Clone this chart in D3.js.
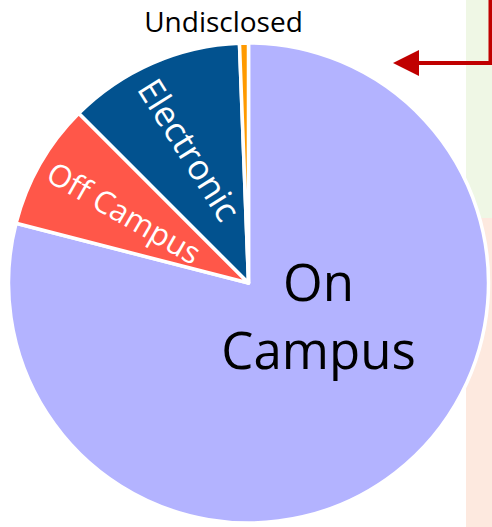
<!DOCTYPE html>
<html>
<head>
<meta charset="utf-8">
<script src="https://cdn.jsdelivr.net/npm/d3@7"></script>
<style>
  html, body { margin: 0; padding: 0; background: #fff; }
  svg { display: block; font-family: "Open Sans", sans-serif; }
</style>
</head>
<body>
<div id="chart"></div>
<script>
// slice order clockwise from 12 o'clock
const categories = ["On Campus", "Off Campus", "Electronic", "Undisclosed"];
const shares = [79.0, 8.5, 11.9, 0.6];
const colors = ["#b3b3ff", "#ff5749", "#02528f", "#ff9a00"];

const width = 492;
const height = 527;
const cx = 248.5;
const cy = 283;
const radius = 240;

const svg = d3
  .select("#chart")
  .append("svg")
  .attr("width", width)
  .attr("height", height);

// side panels behind the pie
svg.append("rect").attr("x", 466).attr("y", 0).attr("width", 26).attr("height", 218).attr("fill", "#eff7e5");
svg.append("rect").attr("x", 466).attr("y", 218).attr("width", 26).attr("height", 309).attr("fill", "#fde9df");

const pie = d3.pie().sort(null).value((d) => d.value);
const arcs = pie(categories.map((c, i) => ({ name: c, value: shares[i] })));
const arc = d3.arc().innerRadius(0).outerRadius(radius);

const g = svg.append("g").attr("transform", `translate(${cx}, ${cy})`);

g.selectAll("path")
  .data(arcs)
  .enter()
  .append("path")
  .attr("d", arc)
  .attr("fill", (d, i) => colors[i])
  .attr("stroke", "#fff")
  .attr("stroke-width", 3.5)
  .attr("stroke-linejoin", "round");

// label placement per slice
const labelStyle = {
  "Off Campus": { r: 143, rotate: 30, size: 31, fill: "#fff" },
  "Electronic": { r: 146, rotate: 58, size: 35, fill: "#fff" },
};

arcs.forEach((d) => {
  const st = labelStyle[d.data.name];
  if (!st) return;
  const a = (d.startAngle + d.endAngle) / 2;
  const x = Math.sin(a) * st.r;
  const y = -Math.cos(a) * st.r;
  g.append("text")
    .attr("transform", `translate(${x}, ${y}) rotate(${st.rotate})`)
    .attr("text-anchor", "middle")
    .attr("dominant-baseline", "central")
    .attr("font-size", st.size)
    .attr("fill", st.fill)
    .text(d.data.name);
});

// On Campus label, two lines
const onLabel = g.append("text")
  .attr("text-anchor", "middle")
  .attr("font-size", 51)
  .attr("fill", "#000");
onLabel.append("tspan").attr("x", 70).attr("y", 18).text("On");
onLabel.append("tspan").attr("x", 70).attr("y", 86).text("Campus");

// Undisclosed label above the pie
svg.append("text")
  .attr("x", 223.5)
  .attr("y", 32)
  .attr("text-anchor", "middle")
  .attr("font-size", 28)
  .attr("fill", "#000")
  .text("Undisclosed");

// callout arrow
svg.append("path")
  .attr("d", "M490.5,0 V63 H416")
  .attr("fill", "none")
  .attr("stroke", "#c00000")
  .attr("stroke-width", 4);
svg.append("path")
  .attr("d", "M393,63 L419,50 L419,76 Z")
  .attr("fill", "#c00000");
</script>
</body>
</html>
